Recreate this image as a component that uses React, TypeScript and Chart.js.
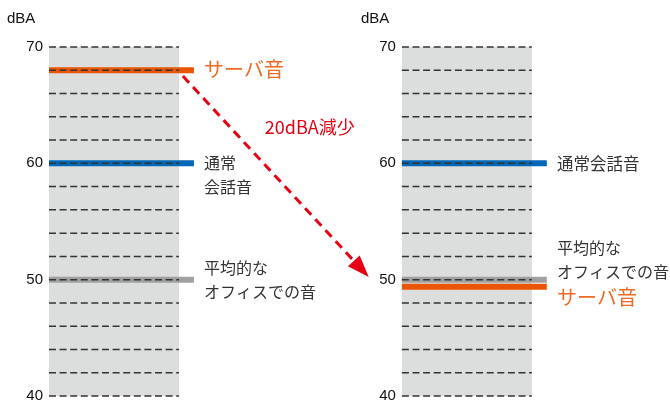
import React, { useEffect, useRef } from "react";
import { Chart, registerables } from "chart.js";

Chart.register(...registerables);

// ---- data ----
const yTickValues = [40, 50, 60, 70];
const yMin = 40;
const yMax = 70;
const gridStep = 2;
const unitLabel = "dBA";

const seriesNames = ["サーバ音", "通常会話音", "平均的なオフィスでの音"];
const beforeValues = [68, 60, 50]; // server, conversation, office (left panel)
const afterValues = [49.4, 60, 50]; // server, conversation, office (right panel)
const reductionLabel = "20dBA減少";

// ---- layout constants (x in scale units, 1 unit = 13px) ----
const PANEL_STARTS = [0, 27.15];
const PANEL_WIDTH = 10;
const LINE_OVERHANG = 1.15;
const X_MAX = 47.7;

const COLORS = ["#ea5504", "#0068b7", "#a0a0a0"];
const TEXT_COLORS = ["#ee6a22", "#333333", "#333333"];
const BG_GRAY = "#dcdddd";
const RED = "#e60012";
const CJK = '"Noto Sans CJK JP", "Noto Sans", sans-serif';
const LATIN = '"Liberation Sans", Arial, sans-serif';

const leftLabels = [
  { x: 11.92, y: 68.1, lines: ["サーバ音"], size: 20, color: 0 },
  { x: 11.92, y: 60.0, lines: ["通常", "会話音"], size: 16, color: 1 },
  { x: 11.92, y: 51.0, lines: ["平均的な", "オフィスでの音"], size: 16, color: 2 },
];
const rightLabels = [
  { x: 39.08, y: 60.0, lines: ["通常会話音"], size: 16.5, color: 1 },
  { x: 39.08, y: 52.72, lines: ["平均的な", "オフィスでの音"], size: 16, color: 2 },
  { x: 39.08, y: 48.5, lines: ["サーバ音"], size: 20, color: 0 },
];
const arrowFrom = { x: 10.3, y: 67.5 };
const arrowTo = { x: 24.6, y: 50.23 };
const arrowLabelPos = { x: 16.6, y: 63.1 };

function lineDataset(start: number, value: number, color: string, label: string) {
  return {
    label,
    data: [
      { x: start, y: value },
      { x: start + PANEL_WIDTH + LINE_OVERHANG, y: value },
    ],
    borderColor: color,
    backgroundColor: color,
    borderWidth: 6,
    borderCapStyle: "butt" as const,
    pointRadius: 0,
    pointHoverRadius: 0,
    fill: false,
  };
}

const decorPlugin = {
  id: "decor",
  beforeDatasetsDraw(chart: any) {
    const { ctx } = chart;
    const xs = chart.scales.x;
    const ys = chart.scales.y;
    ctx.save();
    ctx.fillStyle = BG_GRAY;
    PANEL_STARTS.forEach((s) => {
      const x0 = xs.getPixelForValue(s);
      const x1 = xs.getPixelForValue(s + PANEL_WIDTH);
      const y0 = ys.getPixelForValue(yMax);
      const y1 = ys.getPixelForValue(yMin);
      ctx.fillRect(x0, y0, x1 - x0, y1 - y0);
    });
    ctx.restore();
  },
  afterDatasetsDraw(chart: any) {
    const { ctx } = chart;
    const xs = chart.scales.x;
    const ys = chart.scales.y;
    ctx.save();
    // dashed grid
    ctx.strokeStyle = "#333333";
    ctx.lineWidth = 1.5;
    ctx.setLineDash([7, 3.6]);
    PANEL_STARTS.forEach((s) => {
      const x0 = xs.getPixelForValue(s);
      const x1 = xs.getPixelForValue(s + PANEL_WIDTH);
      for (let v = yMin; v <= yMax; v += gridStep) {
        const y = ys.getPixelForValue(v);
        ctx.beginPath();
        ctx.moveTo(x0, y);
        ctx.lineTo(x1, y);
        ctx.stroke();
      }
    });
    // arrow
    const ax0 = xs.getPixelForValue(arrowFrom.x);
    const ay0 = ys.getPixelForValue(arrowFrom.y);
    const ax1 = xs.getPixelForValue(arrowTo.x);
    const ay1 = ys.getPixelForValue(arrowTo.y);
    const dx = ax1 - ax0;
    const dy = ay1 - ay0;
    const len = Math.sqrt(dx * dx + dy * dy);
    const ux = dx / len;
    const uy = dy / len;
    const headLen = 22;
    const headHalf = 8;
    ctx.strokeStyle = RED;
    ctx.lineWidth = 3;
    ctx.setLineDash([9, 6]);
    ctx.beginPath();
    ctx.moveTo(ax0, ay0);
    ctx.lineTo(ax1 - ux * headLen, ay1 - uy * headLen);
    ctx.stroke();
    ctx.setLineDash([]);
    ctx.fillStyle = RED;
    const bx = ax1 - ux * headLen;
    const by = ay1 - uy * headLen;
    ctx.beginPath();
    ctx.moveTo(ax1, ay1);
    ctx.lineTo(bx - uy * headHalf, by + ux * headHalf);
    ctx.lineTo(bx + uy * headHalf, by - ux * headHalf);
    ctx.closePath();
    ctx.fill();
    // arrow label
    ctx.font = `18px ${CJK}`;
    ctx.textAlign = "left";
    ctx.textBaseline = "middle";
    ctx.fillText(reductionLabel, xs.getPixelForValue(arrowLabelPos.x), ys.getPixelForValue(arrowLabelPos.y));
    // series labels
    [...leftLabels, ...rightLabels].forEach((l) => {
      ctx.font = `${l.size}px ${CJK}`;
      ctx.fillStyle = TEXT_COLORS[l.color];
      const x = xs.getPixelForValue(l.x);
      const y = ys.getPixelForValue(l.y);
      l.lines.forEach((t, i) => ctx.fillText(t, x, y + i * 23.5));
    });
    // unit labels
    ctx.font = `15px ${LATIN}`;
    ctx.fillStyle = "#111111";
    const top = ys.getPixelForValue(yMax);
    ctx.fillText(unitLabel, 7, top - 28);
    ctx.fillText(unitLabel, xs.getPixelForValue(PANEL_STARTS[1]) - 41, top - 28);
    ctx.restore();
  },
};

const tickOpts = {
  stepSize: 10,
  padding: 6,
  color: "#111111",
  font: { size: 15, family: LATIN },
  callback: (v: any) => (yTickValues.includes(Number(v)) ? String(v) : ""),
};

export default function App() {
  const ref = useRef<HTMLCanvasElement | null>(null);
  useEffect(() => {
    if (!ref.current) return;
    const datasets = [
      ...beforeValues.map((v, i) => lineDataset(PANEL_STARTS[0], v, COLORS[i], seriesNames[i])),
      ...afterValues.map((v, i) => lineDataset(PANEL_STARTS[1], v, COLORS[i], seriesNames[i])),
    ];
    const chart = new Chart(ref.current, {
      type: "line",
      data: { datasets },
      options: {
        animation: false,
        responsive: false,
        events: [],
        layout: { padding: { top: 47, bottom: 7, left: 0, right: 1 } },
        plugins: { legend: { display: false }, tooltip: { enabled: false } },
        scales: {
          x: { type: "linear", min: 0, max: X_MAX, display: false },
          y: {
            type: "linear",
            min: yMin,
            max: yMax,
            position: "left",
            ticks: tickOpts,
            grid: { display: false, drawTicks: false },
            border: { display: false },
            afterFit: (s: any) => {
              s.width = 49;
              s.paddingTop = 0;
              s.paddingBottom = 0;
            },
          },
          y2: {
            type: "linear",
            axis: "y",
            min: yMin,
            max: yMax,
            position: { x: PANEL_STARTS[1] - 6 / 13 },
            ticks: tickOpts,
            grid: { display: false, drawTicks: false },
            border: { display: false },
            afterFit: (s: any) => {
              s.paddingTop = 0;
              s.paddingBottom = 0;
            },
          },
        },
      } as any,
      plugins: [decorPlugin],
    });
    return () => chart.destroy();
  }, []);
  return (
    <div style={{ position: "fixed", left: 0, top: 0, width: 670, height: 403, background: "#fff" }}>
      <canvas ref={ref} width={670} height={403} style={{ display: "block" }} />
    </div>
  );
}
